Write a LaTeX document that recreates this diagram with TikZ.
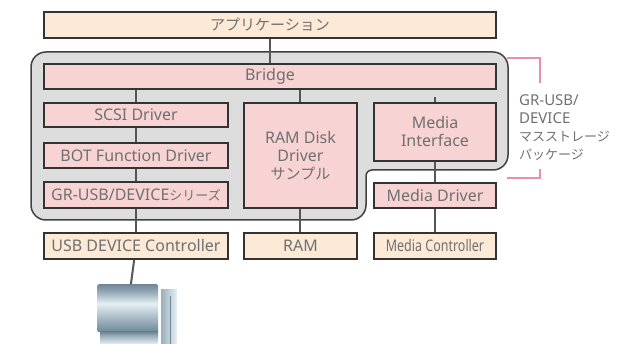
\documentclass[tikz,border=0pt]{standalone}
\usepackage{fontspec}
\setmainfont{Noto Sans}
\newfontfamily\jp{Noto Sans CJK JP}
\newfontfamily\narrowsans[FakeStretch=0.78]{Noto Sans}
\usetikzlibrary{positioning,backgrounds}
\definecolor{cpeach}{HTML}{FCE9D6}
\definecolor{cpink}{HTML}{F8D3D3}
\definecolor{cframe}{HTML}{DCDDDC}
\definecolor{cline}{HTML}{555555}
\definecolor{ctext}{HTML}{707070}
\definecolor{cbrace}{HTML}{E88DB4}
\definecolor{scrD}{HTML}{6E8696}
\definecolor{scrM}{HTML}{9BB0BC}
\definecolor{scrL}{HTML}{E6EFF3}
% monitor face: dark rim, light band in the upper half
\pgfdeclareverticalshading{pcscreen}{100bp}{color(0bp)=(scrD); color(25bp)=(scrD);
 color(37bp)=(scrM); color(55bp)=(scrL); color(66bp)=(scrM); color(75bp)=(scrD); color(100bp)=(scrD)}

\begin{document}
\begin{tikzpicture}[x=1pt,y=-1pt,
 blk/.style={rectangle, draw=black!80, line width=1.2pt, anchor=north west,
 inner sep=0pt, outer sep=0pt, align=center, text=ctext,
 font=\fontsize{16}{18}\selectfont},
 ext/.style={blk, fill=cpeach},
 drv/.style={blk, fill=cpink},
 wire/.style={draw=cline, line width=2pt},
 brace/.style={draw=cbrace, line width=2pt},
]
 \useasboundingbox (0,0) rectangle (643,344);

 \node[ext, minimum width=452pt, minimum height=26pt] (app) at (44,12)
 {\jp\fontsize{15}{18}\selectfont アプリケーション};
 \node[drv, minimum width=452pt, minimum height=25pt] (bridge) at (44,64) {Bridge};

 % left stack
 \node[drv, minimum width=184pt, minimum height=24pt] (scsi) at (44,103) {SCSI Driver};
 \node[drv, minimum width=184pt, minimum height=25pt] (bot) at (44,143) {BOT Function Driver};
 \node[drv, minimum width=184pt, minimum height=26pt] (grusb) at (44,182)
 {GR-USB/DEVICE{\jp\fontsize{13}{18}\selectfont シリーズ}};
 \node[ext, minimum width=184pt, minimum height=26pt] (usbc) at (44,233) {USB DEVICE Controller};

 % middle column
 \node[drv, minimum width=113pt, minimum height=105pt] (ramdisk) at (244,103)
 {RAM Disk\\Driver\\{\jp\fontsize{15}{18}\selectfont サンプル}};
 \node[ext, minimum width=113pt, minimum height=26pt] (ram) at (244,233) {RAM};

 % right column
 \node[drv, minimum width=122pt, minimum height=58pt] (mif) at (374,103) {Media\\Interface};
 \node[drv, minimum width=122pt, minimum height=25pt] (mdrv) at (374,183) {Media Driver};
 \node[ext, minimum width=122pt, minimum height=26pt] (mctl) at (374,233)
 {\narrowsans Media Controller};
 \coordinate (mtick) at (435,97);

 % host PC
 \node[rectangle, rounded corners=2pt, shading=pcscreen, anchor=north west,
 minimum width=61pt, minimum height=48pt, inner sep=0pt] (pc) at (97,284) {};
 \shade[top color=scrD, bottom color=scrM] (100,332) rectangle (158,336);
 \shade[top color=scrM, bottom color=scrL] (100,336) rectangle (158,344);
 \shade[left color=scrM, right color=scrL] (161,290) rectangle (177,344);
 \draw[scrD, line width=1pt] (170,296) -- (170,344);

 \begin{scope}[on background layer]
 \draw[fill=cframe, draw=black!75, line width=1.5pt, rounded corners=15pt]
 (31,52) -- (508,52) -- (508,170) [rounded corners=6pt] -- (366,170)
 [rounded corners=15pt] -- (366,220) -- (31,220) -- cycle;
 \draw[wire] (app) -- (bridge);
 \draw[wire] (bridge.south -| scsi) -- (scsi);
 \draw[wire] (scsi) -- (bot);
 \draw[wire] (bot) -- (grusb);
 \draw[wire] (grusb) -- (usbc);
 \draw[wire] (usbc) -- (pc);
 \draw[wire] ([xshift=-0.5pt]bridge.south -| ramdisk) -- ([xshift=-0.5pt]ramdisk.north);
 \draw[wire] ([xshift=-0.5pt]ramdisk.south) -- ([xshift=-0.5pt]ram.north);
 \draw[wire] (mtick) -- (mtick |- mif.north);
 \draw[wire] (mif) -- (mdrv);
 \draw[wire] (mdrv) -- (mctl);
 \end{scope}

 % package bracket
 \draw[brace] (507,58) -| (540,83);
 \draw[brace] (507,178) -| (540,169);
 \node[anchor=north west, align=left, inner sep=0pt, text=ctext,
 font=\fontsize{15}{18}\selectfont] (pkg) at (519,94)
 {GR-USB/\\DEVICE\\{\jp\fontsize{13}{18}\selectfont マスストレージ}\\{\jp\fontsize{13}{18}\selectfont パッケージ}};
\end{tikzpicture}
\end{document}
